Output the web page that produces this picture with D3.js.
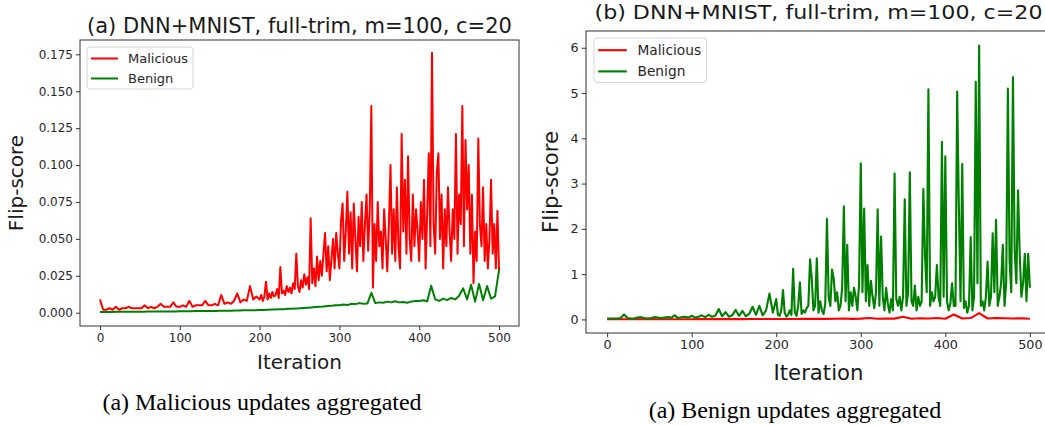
<html>
<head>
<title>Flip-score panels</title>
<script src="https://d3js.org/d3.v7.min.js"></script>
<style>
body { margin: 0; background: #fff; }
.tick text { fill: #262626; }
.domain, .tick line { stroke: #333; }
</style>
</head>
<body>
<div id="fig"></div>
<script>
// ---- data ----
var seriesNames = ["Malicious", "Benign"];
var seriesColors = ["#ff0000", "#008000"];

// panel (a): malicious updates aggregated
var iterA_mal = d3.range(0, 200, 4).concat(d3.range(200, 501, 2));
var malA = [
  // 0 - 196, every 4
  .009, .002, .002, .003, .002, .004, .002, .003, .003, .004,
  .003, .003, .003, .003, .005, .003, .004, .003, .004, .006,
  .004, .004, .004, .007, .004, .004, .005, .004, .008, .004,
  .005, .005, .005, .008, .005, .005, .006, .005, .012, .006,
  .007, .006, .008, .013, .007, .009, .008, .018, .009, .011,
  // 200 - 500, every 2
  .009, .012, .008, .011, .021, .009, .013, .010, .014, .011,
  .012, .016, .010, .031, .013, .015, .012, .018, .014, .017,
  .013, .020, .016, .040, .018, .014, .022, .017, .026, .019,
  .024, .016, .064, .020, .030, .018, .038, .022, .035, .025,
  .040, .054, .028, .045, .022, .036, .050, .030, .054, .040,
  .030, .062, .074, .035, .055, .082, .040, .068, .030, .074,
  .050, .028, .065, .045, .075, .035, .060, .080, .042, .070,
  .140, .017, .060, .035, .075, .045, .055, .030, .070, .050,
  .028, .060, .100, .040, .070, .035, .085, .045, .030, .121,
  .055, .090, .040, .106, .050, .035, .080, .045, .070, .055,
  .035, .075, .050, .090, .030, .068, .108, .045, .176, .060,
  .040, .095, .108, .050, .080, .030, .070, .045, .085, .055,
  .035, .070, .050, .121, .040, .080, .060, .140, .045, .117,
  .070, .100, .040, .080, .020, .055, .035, .118, .060, .045,
  .085, .035, .060, .030, .050, .090, .040, .060, .030, .069,
  .028
];
// benign in panel (a), every 5 iterations
var iterA_ben = d3.range(0, 501, 5);
var benA = [
  .0005, .0005, .0005, .0005, .0006, .0006, .0006, .0006, .0007, .0007,
  .0007, .0007, .0008, .0008, .0008, .0008, .0009, .0009, .0009, .0009,
  .0010, .0010, .0010, .0010, .0011, .0011, .0011, .0012, .0012, .0012,
  .0013, .0013, .0014, .0014, .0015, .0015, .0016, .0016, .0017, .0017,
  .0018, .0019, .0020, .0021, .0022, .0023, .0024, .0026, .0027, .0029,
  .0030, .0032, .0034, .0036, .0038, .0040, .0042, .0045, .0047, .0050,
  .0050, .0055, .0052, .0060, .0058, .0065, .0060, .0062, .0135, .0065,
  .0070, .0068, .0075, .0070, .0078, .0070, .0072, .0068, .0075, .0080,
  .0080, .0085, .0078, .0183, .0090, .0080, .0095, .0085, .0100, .0090,
  .0115, .0165, .0090, .0190, .0075, .0195, .0085, .0180, .0095, .0110,
  .0290
];

// panel (b): benign updates aggregated
var iterB_mal = d3.range(0, 501, 10);
var malB = [
  .003, .003, .003, .004, .004, .004, .004, .005, .005, .005,
  .005, .006, .006, .006, .006, .007, .007, .008, .008, .009,
  .009, .010, .010, .012, .011, .015, .012, .014, .020, .012,
  .018, .030, .015, .020, .018, .060, .015, .025, .020, .030,
  .015, .110, .020, .030, .140, .020, .030, .025, .020, .025,
  .015
];
var iterB_ben = d3.range(0, 200, 4).concat(d3.range(200, 501, 2));
var benB = [
  // 0 - 196, every 4
  .02, .02, .02, .02, .03, .11, .03, .02, .02, .04,
  .05, .03, .02, .03, .05, .04, .03, .04, .05, .04,
  .09, .03, .05, .06, .04, .08, .04, .06, .09, .05,
  .10, .06, .08, .23, .07, .16, .06, .09, .21, .08,
  .19, .07, .12, .28, .10, .30, .09, .20, .57, .15,
  // 200 - 500, every 2
  .45, .10, .08, .20, .65, .15, .06, .10, .20, .10,
  1.12, .15, .08, .30, .82, .12, .20, .15, .25, .30,
  1.33, .90, .20, .30, 1.35, .15, .40, .20, .12, .35,
  2.22, .50, .30, 1.10, .90, .40, .60, .20, .30, .70,
  2.50, .40, 1.65, .20, .60, .30, .70, .50, .20, .80,
  3.45, .60, 2.45, .40, 1.20, .30, .85, .50, .25, .60,
  2.43, .30, 1.83, .50, .20, .70, .35, .15, .45, .20,
  3.22, .45, .30, .50, .20, .50, 2.65, .30, .60, 3.25,
  .40, .30, .75, .20, .50, .30, .40, 2.88, 1.40, .60,
  5.08, .30, .60, .40, .50, 1.20, .50, .30, 3.92, .50,
  3.60, .40, .20, .35, .80, .30, .30, 5.03, 2.50, .40,
  3.43, .25, .40, .15, .30, 1.82, .20, .50, 5.25, .80,
  6.05, .30, .40, .20, .50, 1.28, .30, .50, 1.90, .60,
  2.20, .30, .50, .80, 1.65, .30, .80, 5.10, 1.30, .60,
  5.35, 1.55, .80, 2.85, 1.45, .50, .80, 1.45, .40, 1.45,
  .70
];

var xTicks = [0, 100, 200, 300, 400, 500];
var yTicksA = [0, 0.025, 0.05, 0.075, 0.1, 0.125, 0.15, 0.175];
var yTicksB = [0, 1, 2, 3, 4, 5, 6];

// ---- drawing ----
var W = 1045, H = 425;
var svg = d3.select("#fig").append("svg")
  .attr("width", W).attr("height", H)
  .style("font-family", "'DejaVu Sans', sans-serif");

function zip(xs, ys) { return xs.map(function(x, i) { return {x: x, y: ys[i]}; }); }

function drawPanel(p) {
  var s = p.k; // size factor of the panel
  var x = d3.scaleLinear().domain([-25, 525]).range([p.left, p.right]);
  var y = d3.scaleLinear().domain(p.yDomain).range([p.bottom, p.top]);
  var g = svg.append("g");

  var clipId = "clip" + p.id;
  g.append("clipPath").attr("id", clipId).append("rect")
    .attr("x", p.left).attr("y", p.top)
    .attr("width", p.right - p.left).attr("height", p.bottom - p.top);

  var line = d3.line().x(function(d) { return x(d.x); }).y(function(d) { return y(d.y); });

  // Malicious first, Benign on top
  var plot = g.append("g").attr("clip-path", "url(#" + clipId + ")");
  p.series.forEach(function(ser, i) {
    plot.append("path")
      .datum(zip(ser.x, ser.y))
      .attr("fill", "none")
      .attr("stroke", seriesColors[i])
      .attr("stroke-width", 2 * s)
      .attr("stroke-linejoin", "round")
      .attr("d", line);
  });

  // axes
  g.append("g")
    .attr("transform", "translate(0," + p.bottom + ")")
    .call(d3.axisBottom(x).tickValues(xTicks).tickSize(4 * s).tickPadding(3 * s).tickSizeOuter(0))
    .call(function(a) { a.select(".domain").remove(); })
    .selectAll("text").style("font-size", (12 * s) + "px").style("font-family", "'DejaVu Sans'");
  g.append("g")
    .attr("transform", "translate(" + p.left + ",0)")
    .call(d3.axisLeft(y).tickValues(p.yTicks).tickFormat(p.yFormat).tickSize(4 * s).tickPadding(3 * s).tickSizeOuter(0))
    .call(function(a) { a.select(".domain").remove(); })
    .selectAll("text").style("font-size", (12 * s) + "px").style("font-family", "'DejaVu Sans'");

  // frame
  g.append("rect")
    .attr("x", p.left).attr("y", p.top)
    .attr("width", p.right - p.left).attr("height", p.bottom - p.top)
    .attr("fill", "none").attr("stroke", "#333").attr("stroke-width", 1);

  // title and axis labels
  g.append("text").attr("x", (p.left + p.right) / 2).attr("y", p.titleY)
    .attr("text-anchor", "middle").style("font-size", p.titleSize + "px").attr("fill", "#1a1a1a")
    .attr("textLength", p.titleLen).attr("lengthAdjust", "spacingAndGlyphs")
    .text(p.title);
  g.append("text").attr("x", (p.left + p.right) / 2).attr("y", p.xLabelY)
    .attr("text-anchor", "middle").style("font-size", (20 * s) + "px").attr("fill", "#1a1a1a")
    .text("Iteration");
  g.append("text")
    .attr("transform", "translate(" + p.yLabelX + "," + ((p.top + p.bottom) / 2) + ") rotate(-90)")
    .attr("text-anchor", "middle").style("font-size", (20 * s) + "px").attr("fill", "#1a1a1a")
    .text("Flip-score");

  // legend
  var lg = g.append("g").attr("transform", "translate(" + p.legend[0] + "," + p.legend[1] + ")");
  lg.append("rect").attr("width", 106 * s).attr("height", 42 * s)
    .attr("rx", 3).attr("fill", "#fff").attr("fill-opacity", 0.8)
    .attr("stroke", "#d5d5d5");
  seriesNames.forEach(function(n, i) {
    var yy = (11.5 + i * 20) * s;
    lg.append("line").attr("x1", 4 * s).attr("x2", 31 * s).attr("y1", yy).attr("y2", yy)
      .attr("stroke", seriesColors[i]).attr("stroke-width", 2 * s);
    lg.append("text").attr("x", 41 * s).attr("y", yy + 4.5 * s)
      .style("font-size", (13 * s) + "px").attr("fill", "#262626").text(n);
  });

  // caption under the panel
  svg.append("text").attr("x", p.capX).attr("y", p.capY)
    .attr("text-anchor", "middle")
    .style("font-family", "'Liberation Serif', 'Times New Roman', serif")
    .style("font-size", p.capSize + "px").attr("fill", "#000")
    .text(p.caption);
}

drawPanel({
  id: "a", k: 1,
  left: 80, right: 519, top: 40, bottom: 326,
  yDomain: [-0.009, 0.1847], yTicks: yTicksA, yFormat: d3.format(".3f"),
  title: "(a) DNN+MNIST, full-trim, m=100, c=20", titleY: 33, titleSize: 21, titleLen: 425,
  xLabelY: 369, yLabelX: 23, legend: [87, 47],
  series: [{x: iterA_mal, y: malA}, {x: iterA_ben, y: benA}],
  caption: "(a) Malicious updates aggregated", capX: 262, capY: 410, capSize: 24
});

drawPanel({
  id: "b", k: 1.06,
  left: 586, right: 1051, top: 31, bottom: 333,
  yDomain: [-0.3, 6.37], yTicks: yTicksB, yFormat: d3.format("d"),
  title: "(b) DNN+MNIST, full-trim, m=100, c=20", titleY: 19, titleSize: 20, titleLen: 448,
  xLabelY: 380, yLabelX: 558, legend: [594, 38],
  series: [{x: iterB_mal, y: malB}, {x: iterB_ben, y: benB}],
  caption: "(a) Benign updates aggregated", capX: 795, capY: 418, capSize: 24
});
</script>
</body>
</html>
